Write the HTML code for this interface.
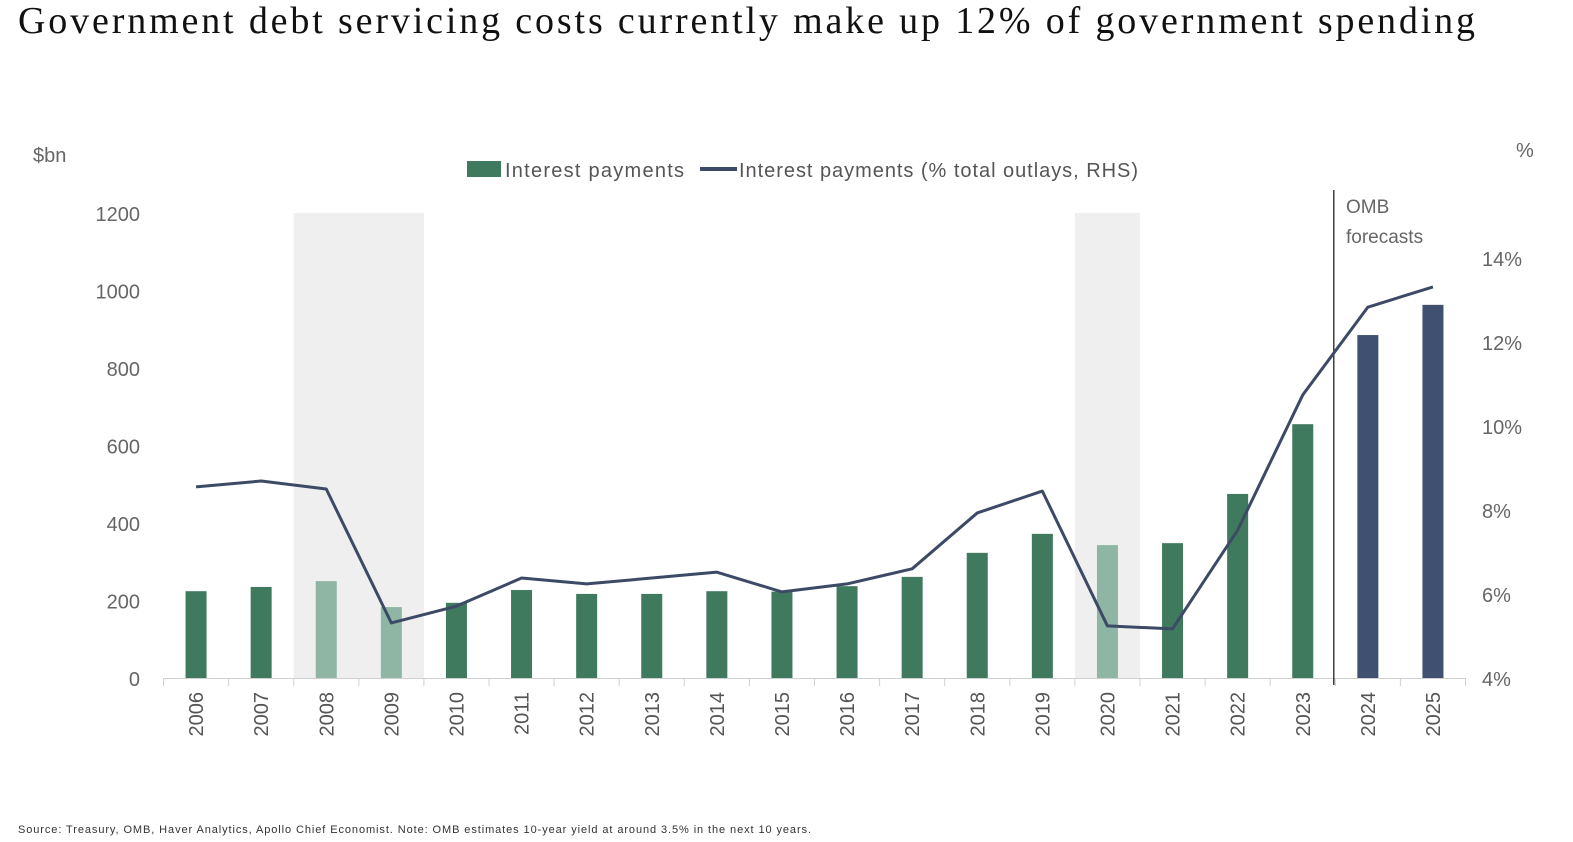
<!DOCTYPE html>
<html><head><meta charset="utf-8"><style>
body{margin:0;background:#fff;width:1573px;height:842px;overflow:hidden}
svg{display:block}
text{font-family:"Liberation Sans",sans-serif}
</style></head><body>
<svg width="1573" height="842" id="chart">
<text x="18" y="33" style="font-family:'Liberation Serif',serif" font-size="38" fill="#111" textLength="1457" lengthAdjust="spacing">Government debt servicing costs currently make up 12% of government spending</text>
<text x="33" y="162" font-size="20" fill="#666">$bn</text>
<text x="1516" y="157" font-size="20" fill="#666">%</text>
<g>
<rect x="467" y="161" width="34" height="16" fill="#3f7a5e"/>
<text x="505" y="177" font-size="20" fill="#555" textLength="179" lengthAdjust="spacing">Interest payments</text>
<line x1="700" y1="169" x2="737" y2="169" stroke="#3d4a66" stroke-width="4"/>
<text x="739" y="177" font-size="20" fill="#555" textLength="399" lengthAdjust="spacing">Interest payments (% total outlays, RHS)</text>
</g>
<text x="1346" y="213" font-size="19" fill="#666">OMB</text>
<text x="1346" y="243" font-size="19" fill="#666">forecasts</text>
<text x="18" y="833" font-size="11" fill="#333" textLength="793" lengthAdjust="spacing">Source: Treasury, OMB, Haver Analytics, Apollo Chief Economist. Note: OMB estimates 10-year yield at around 3.5% in the next 10 years.</text>
<g id="plot"></g>
</svg>
<script>
const years=["2006","2007","2008","2009","2010","2011","2012","2013","2014","2015","2016","2017","2018","2019","2020","2021","2022","2023","2024","2025"];
const payments=[224,235,250,183,194,227,217,217,224,223,237,261,323,372,343,348,475,655,885,963];
const pctOutlays=[8.55,8.69,8.5,5.31,5.71,6.38,6.24,6.38,6.52,6.05,6.24,6.6,7.93,8.45,5.24,5.17,7.52,10.74,12.83,13.31];
const leftTicks=[0,200,400,600,800,1000,1200];
const rightTicks=[4,6,8,10,12,14];
const recessionYears=["2008","2009","2020"];
const forecastYears=["2024","2025"];
const NS="http://www.w3.org/2000/svg";
const g=document.getElementById('plot');
const x0=163.5,band=65.1;
const xc=i=>x0+band*(i+0.5);
const yL=v=>678-v*0.3875;
const yR=v=>678-(v-4)*42;
function mk(t,a){const e=document.createElementNS(NS,t);for(const k in a)e.setAttribute(k,a[k]);g.appendChild(e);return e;}
recessionYears.forEach(y=>{const i=years.indexOf(y);
 const r=mk('rect',{x:xc(i)-band/2,y:213,width:band,height:465,fill:'#efefef'});
 
 });
leftTicks.forEach(v=>{const t=mk('text',{x:140,y:yL(v)+8,'font-size':20,fill:'#666','text-anchor':'end'});t.textContent=v;
 
 });
rightTicks.forEach(v=>{const t=mk('text',{x:1482,y:yR(v)+8,'font-size':20,fill:'#666'});t.textContent=v+'%';
 
 });
payments.forEach((v,i)=>{const y=years[i];
 let c='#3f7a5e';if(recessionYears.includes(y))c='#8fb5a4';if(forecastYears.includes(y))c='#3f5070';
 const b=mk('rect',{x:xc(i)-10.5,y:yL(v),width:21,height:678-yL(v),fill:c});
 
 });
const ax=mk('line',{x1:x0,y1:678.5,x2:x0+band*years.length,y2:678.5,stroke:'#d0d0d0','stroke-width':1});


for(let i=0;i<=years.length;i++){const t=mk('line',{x1:x0+band*i,y1:678,x2:x0+band*i,y2:686,stroke:'#d0d0d0'});
 
 }
years.forEach((y,i)=>{const t=mk('text',{x:0,y:0,'font-size':20,fill:'#555','text-anchor':'end',transform:`translate(${xc(i)+7},692) rotate(-90)`});t.textContent=y;
 
 });
const fi=years.indexOf("2024");
const d=mk('line',{x1:xc(fi)-band/2-1.5,y1:190,x2:xc(fi)-band/2-1.5,y2:685,stroke:'#222','stroke-width':1.3});


const pl=mk('polyline',{points:pctOutlays.map((v,i)=>xc(i)+','+yR(v)).join(' '),fill:'none',stroke:'#3d4a66','stroke-width':3,'stroke-linejoin':'round'});


</script>
</body></html>
